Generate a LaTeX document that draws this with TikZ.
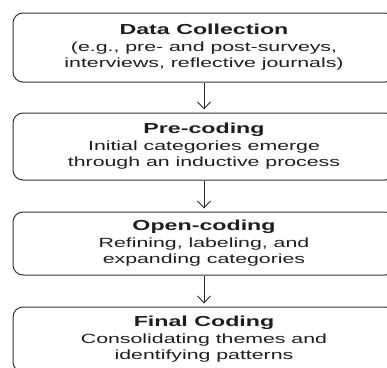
\documentclass[tikz,border=0pt]{standalone}
\usepackage{fontspec}
\setmainfont{Liberation Sans}[FakeStretch=1.6]
\usetikzlibrary{arrows.meta}

\tikzset{every picture/.style={line width=1pt}}
\tikzset{
  stagebox/.style={draw={rgb, 255:red, 51; green, 51; blue, 51}, rounded corners=10pt,
    minimum width=382pt, inner sep=0pt, align=center,
    text={rgb, 255:red, 30; green, 30; blue, 30},
    font=\fontsize{13.3}{16.5}\selectfont},
  stagearrow/.style={draw={rgb, 255:red, 40; green, 40; blue, 40}, line width=0.9pt,
    -{Straight Barb[length=7pt,width=13pt]}, shorten >=3pt}
}
\newcommand\stagetitle[1]{{\fontsize{14.5}{16.5}\selectfont\bfseries #1}}

\begin{document}
\begin{tikzpicture}[x=1pt,y=1pt,yscale=-1,xscale=1]
\useasboundingbox (0,0) rectangle (387,367);
\clip (0,0) rectangle (387,367);

% Stage boxes
\node [stagebox, minimum height=69pt] (collect) at (204,47.5)
  {\stagetitle{Data Collection}\\(e.g., pre- and post-surveys,\\interviews, reflective journals)};
\node [stagebox, minimum height=67pt] (precode) at (204,146.5)
  {\stagetitle{Pre-coding}\\Initial categories emerge\\through an inductive process};
\node [stagebox, minimum height=63pt] (opencode) at (204,243.5)
  {\stagetitle{Open-coding}\\Refining, labeling, and\\expanding categories};
\node [stagebox, minimum height=65pt] (finalcode) at (204,339.5)
  {\stagetitle{Final Coding}\\Consolidating themes and\\identifying patterns};

% Arrows
\draw [stagearrow] (collect) -- (precode);
\draw [stagearrow] (precode) -- (opencode);
\draw [stagearrow] (opencode) -- (finalcode);

\end{tikzpicture}
\end{document}
